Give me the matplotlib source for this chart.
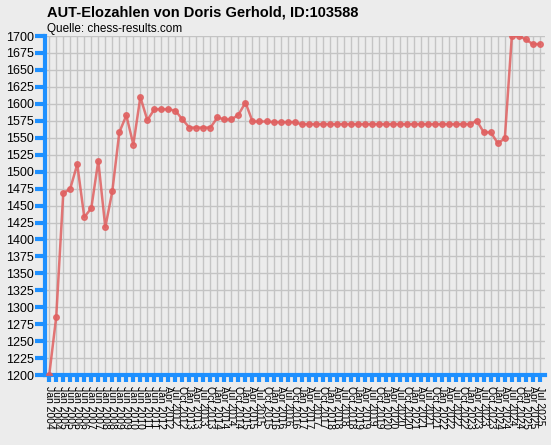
import matplotlib.pyplot as plt
import numpy as np

# Monatsliste: halbjaehrlich bis Jan 2012, danach quartalsweise
labels = []
for y in range(2004, 2012):
    labels += ["Jan %d" % y, "Jun %d" % y]
labels += ["Jan 2012"]
for y in range(2012, 2026):
    for m in ["Jan", "Apr", "Jul", "Oct"]:
        if (y == 2012 and m == "Jan") or (y == 2025 and m == "Oct"):
            continue
        labels.append("%s %d" % (m, y))

elo = [1200, 1286, 1468, 1475, 1511, 1433, 1446, 1516, 1418, 1471,
       1558, 1583, 1540, 1610, 1576, 1592, 1592, 1592, 1590, 1577,
       1565, 1565, 1565, 1565, 1580, 1577, 1577, 1584, 1602, 1574,
       1574, 1574, 1573, 1573, 1573, 1573, 1570, 1570, 1570, 1570,
       1570, 1570, 1570, 1570, 1570, 1570, 1570, 1570, 1570, 1570,
       1570, 1570, 1570, 1570, 1570, 1570, 1570, 1570, 1570, 1570,
       1570, 1575, 1558, 1558, 1542, 1549, 1700, 1700, 1695, 1688,
       1688]

bg = "#ececec"
blue = "#1e90ff"
plt.rcParams['font.family'] = ['Liberation Sans', 'DejaVu Sans']

fig = plt.figure(figsize=(5.51, 4.45), dpi=100, facecolor=bg)
ax = fig.add_axes([0.0817, 0.157, 0.907, 0.762])
ax.set_facecolor(bg)

x = np.arange(len(elo))
ax.plot(x, elo, color="#e06060", alpha=0.85, linewidth=1.8, marker="o", markersize=4, zorder=3)

ax.set_xlim(-0.6, len(elo) - 0.3)
ax.set_ylim(1200, 1700)
ax.set_yticks(np.arange(1200, 1701, 25))
ax.set_xticks(x)
ax.set_xticklabels(labels, rotation=-90, fontsize=7.5, va="top", ha="center")
ax.tick_params(axis="y", labelsize=9, length=7, width=3, color=blue, pad=1)
ax.tick_params(axis="x", length=5, width=3, color=blue, pad=3)
ax.grid(True, color="#c4c4c4", linewidth=1)
ax.set_axisbelow(True)

for s in ["top", "right"]:
    ax.spines[s].set_visible(False)
for s in ["left", "bottom"]:
    ax.spines[s].set_color(blue)
    ax.spines[s].set_linewidth(3)

fig.text(0.085, 0.962, "AUT-Elozahlen von Doris Gerhold, ID:103588", fontsize=10.5, fontweight="bold")
fig.text(0.085, 0.929, "Quelle: chess-results.com", fontsize=8.5)

fig.savefig("out.png", dpi=100, facecolor=bg)
